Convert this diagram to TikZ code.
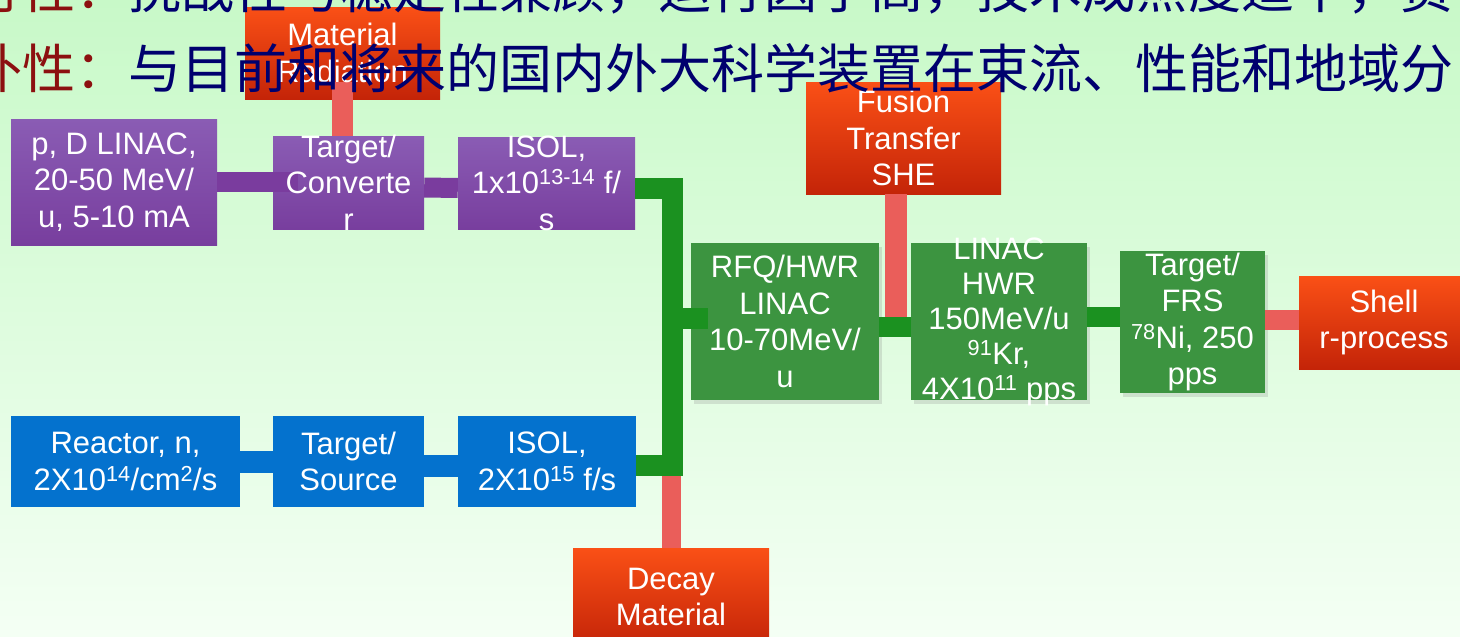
\documentclass[tikz,border=0pt]{standalone}
\usepackage{fontspec}
\setmainfont{Liberation Sans}
\newfontfamily\cjk{Noto Sans CJK SC}
\usetikzlibrary{shadows}
\definecolor{bgtop}{RGB}{200,249,200}
\definecolor{bgbot}{RGB}{244,255,244}
\definecolor{orgtop}{RGB}{250,80,22}
\definecolor{orgbot}{RGB}{196,36,8}
\definecolor{purtop}{RGB}{138,92,180}
\definecolor{purbot}{RGB}{120,62,158}
\definecolor{purlink}{RGB}{122,60,158}
\definecolor{bluebox}{RGB}{4,114,206}
\definecolor{greenbox}{RGB}{60,148,64}
\definecolor{greenlink}{RGB}{27,145,32}
\definecolor{pinklink}{RGB}{234,94,90}
\definecolor{cnred}{RGB}{140,16,16}
\definecolor{cnblue}{RGB}{0,0,110}
\tikzset{
  box/.style={rectangle, inner sep=0pt, draw=none},
  obox/.style={box, top color=orgtop, bottom color=orgbot},
  pbox/.style={box, top color=purtop, bottom color=purbot},
  bbox/.style={box, fill=bluebox},
  gbox/.style={box, fill=greenbox, drop shadow={opacity=0.22, shadow xshift=3pt, shadow yshift=-4pt}},
  boxtext/.style={text=white, align=center, inner sep=0pt, font=\fontsize{31}{36.5}\selectfont},
  plink/.style={draw=purlink, line width=20pt},
  blink/.style={draw=bluebox, line width=22pt},
  glink/.style={draw=greenlink, line width=21pt},
  pklink/.style={draw=pinklink, line width=21pt},
  cntext/.style={anchor=base west, inner sep=0pt, font=\cjk\fontsize{53}{53}\selectfont}
}
\begin{document}
\begin{tikzpicture}[x=1pt,y=-1pt]
\useasboundingbox (0,0) rectangle (1460,637);
\clip (0,0) rectangle (1460,637);
\fill[top color=bgtop, bottom color=bgbot] (0,0) rectangle (1460,637);

% boxes
\node[obox, minimum width=195, minimum height=92]  (mr)  at (342.5,53) {};
\node[pbox, minimum width=206, minimum height=126] (lin) at (114,182) {};
\node[pbox, minimum width=151, minimum height=93]  (tc)  at (348.5,182.5) {};
\node[pbox, minimum width=177, minimum height=92]  (is1) at (546.5,183) {};
\node[obox, minimum width=195, minimum height=112] (fus) at (903.5,138) {};
\node[gbox, minimum width=188, minimum height=157] (rfq) at (785,321.5) {};
\node[gbox, minimum width=176, minimum height=157] (hwr) at (999,321.5) {};
\node[gbox, minimum width=145, minimum height=142] (frs) at (1192.5,322) {};
\node[obox, minimum width=170, minimum height=93]  (sh)  at (1384,322.5) {};
\node[bbox, minimum width=229, minimum height=91]  (re)  at (125.5,461.5) {};
\node[bbox, minimum width=151, minimum height=91]  (ts)  at (348.5,461.5) {};
\node[bbox, minimum width=178, minimum height=91]  (is2) at (547,461.5) {};
\node[obox, minimum width=196, minimum height=98]  (dm)  at (671,597) {};

% connectors
\draw[plink] (lin.east) -- ++(81,0);
\draw[plink] ([yshift=-5pt]tc.east) -- ([yshift=-5pt]is1.west);
\draw[pklink] ([yshift=17pt]mr.south) -- (mr.south |- tc.north);
\draw[blink] (re.east) -- (ts.west);
\draw[blink] ([yshift=-4.5pt]ts.east) -- ([yshift=-4.5pt]is2.west);
\draw[pklink, line width=19pt] (dm.north) -- ++(0,-80);
\draw[pklink, line width=22pt] ([xshift=-7.5pt]fus.south) -- ++(0,128);
\coordinate (bus) at (672.5,318.5);
\draw[glink] ([yshift=-5pt]is1.east) -- ++(37.5,0) |- ([yshift=-4pt]is2.east);
\draw[glink] (bus) -- ([xshift=17pt]rfq.west |- bus);
\draw[glink, line width=20pt] ([yshift=-5.5pt]rfq.east) -- ([yshift=-5.5pt]hwr.west);
\draw[glink, line width=20pt] ([yshift=4.5pt]hwr.east) -- ([yshift=5pt]frs.west);
\draw[pklink, line width=20pt] ([yshift=2pt]frs.east) -- ([yshift=2.5pt]sh.west);

% box texts
\node[boxtext] at (mr) {Material\\Radiation};
\node[boxtext] at (lin) {p, D LINAC,\\20-50 MeV/\\u, 5-10 mA};
\node[boxtext] at (tc) {Target/\\Converte\\r};
\node[boxtext] at (is1) {ISOL,\\1x10\textsuperscript{13-14} f/\\s};
\node[boxtext] at (fus) {Fusion\\Transfer\\SHE};
\node[boxtext] at (rfq) {RFQ/HWR\\LINAC\\10-70MeV/\\u};
\node[boxtext, font=\fontsize{31}{35}\selectfont] at (hwr) {LINAC\\HWR\\150MeV/u\\\textsuperscript{91}Kr,\\4X10\textsuperscript{11} pps};
\node[boxtext] at (frs) {Target/\\FRS\\\textsuperscript{78}Ni, 250\\pps};
\node[boxtext] at (sh) {Shell\\r-process};
\node[boxtext] at (re) {Reactor, n,\\2X10\textsuperscript{14}/cm\textsuperscript{2}/s};
\node[boxtext] at (ts) {Target/\\Source};
\node[boxtext] at (is2) {ISOL,\\2X10\textsuperscript{15} f/s};
\node[boxtext] at (dm) {Decay\\Material};

% Chinese heading lines
\node[cntext] (cn1) at (-31,9) {\textcolor{cnred}{行性：}\textcolor{cnblue}{挑战性与稳定性兼顾，运行因子高，技术成熟度适中，资}};
\node[cntext] (cn2) at (-31,88) {\textcolor{cnred}{补性：}\textcolor{cnblue}{与目前和将来的国内外大科学装置在束流、性能和地域分}};
\end{tikzpicture}
\end{document}
